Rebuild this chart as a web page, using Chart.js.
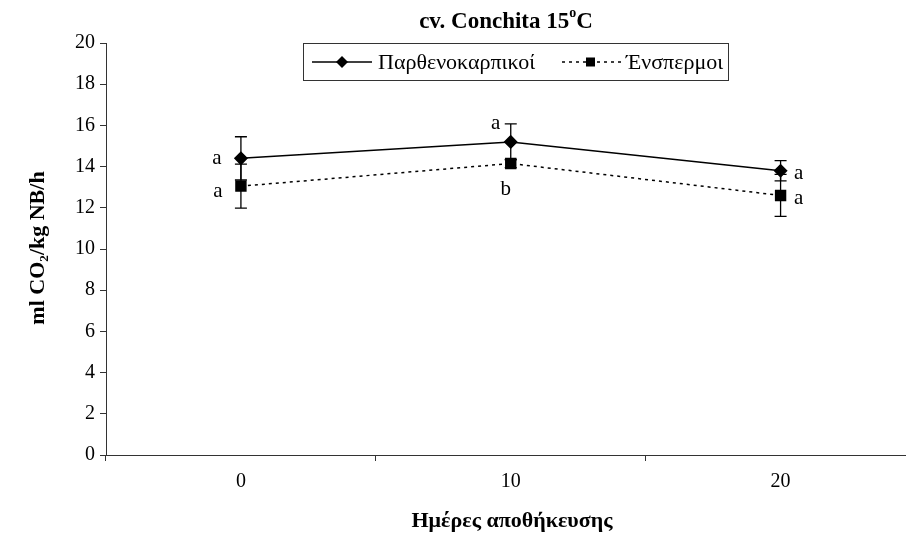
<!DOCTYPE html>
<html>
<head>
<meta charset="utf-8">
<script src="https://cdn.jsdelivr.net/npm/chart.js@4"></script>
<style>
  html, body { margin: 0; padding: 0; background: #fff; overflow: hidden; }
  #wrap { width: 906px; height: 538px; overflow: hidden; }
</style>
</head>
<body>
<div id="wrap"><canvas id="chart" width="924" height="538"></canvas></div>
<script>
// storage days (x categories)
const days = ['0', '10', '20'];

// Παρθενοκαρπικοί (parthenocarpic) series + error bars
const parthValues = [14.4, 15.2, 13.8];
const parthErrors = [1.05, 0.87, 0.49];
const parthLetters = ['a', 'a', 'a'];

// Ένσπερμοι (seeded) series + error bars
const enspValues = [13.05, 14.15, 12.6];
const enspErrors = [1.07, 0.2, 1.02];
const enspLetters = ['a', 'b', 'a'];

const yTicks = [0, 2, 4, 6, 8, 10, 12, 14, 16, 18, 20];

const serif = '"Liberation Serif", "Times New Roman", serif';
const axisColor = '#333';

// letter offsets from the marker (pixels), just styling
const parthLetterOffsets = [[-24, 0], [-15, -18], [18, 3]];
const enspLetterOffsets = [[-23, 5], [-5, 26], [18, 3]];

const errorBars = {
    id: 'errorBars',
    afterDatasetsDraw(chart) {
        const ctx = chart.ctx;
        const x = chart.scales.x;
        const y = chart.scales.y;
        const sets = [[parthValues, parthErrors], [enspValues, enspErrors]];
        ctx.save();
        ctx.strokeStyle = '#000';
        ctx.lineWidth = 1.3;
        sets.forEach(([vals, errs]) => {
            vals.forEach((v, i) => {
                const px = x.getPixelForValue(i);
                const top = y.getPixelForValue(v + errs[i]);
                const bot = y.getPixelForValue(v - errs[i]);
                ctx.beginPath();
                ctx.moveTo(px, top); ctx.lineTo(px, bot);
                ctx.moveTo(px - 6, top); ctx.lineTo(px + 6, top);
                ctx.moveTo(px - 6, bot); ctx.lineTo(px + 6, bot);
                ctx.stroke();
            });
        });
        ctx.restore();
    },
    afterDraw(chart) {
        const ctx = chart.ctx;
        const x = chart.scales.x;
        const y = chart.scales.y;
        ctx.save();
        ctx.fillStyle = '#000';

        // significance letters
        ctx.font = '21px ' + serif;
        ctx.textAlign = 'center';
        ctx.textBaseline = 'middle';
        parthValues.forEach((v, i) => {
            const o = parthLetterOffsets[i];
            ctx.fillText(parthLetters[i], x.getPixelForValue(i) + o[0], y.getPixelForValue(v) + o[1]);
        });
        enspValues.forEach((v, i) => {
            const o = enspLetterOffsets[i];
            ctx.fillText(enspLetters[i], x.getPixelForValue(i) + o[0], y.getPixelForValue(v) + o[1]);
        });

        // title with superscript o
        ctx.textBaseline = 'alphabetic';
        ctx.textAlign = 'left';
        ctx.font = 'bold 23px ' + serif;
        const t1 = 'cv. Conchita 15', t3 = 'C';
        const w1 = ctx.measureText(t1).width;
        const w3 = ctx.measureText(t3).width;
        ctx.font = 'bold 14px ' + serif;
        const w2 = ctx.measureText('o').width;
        let tx = 506 - (w1 + w2 + w3) / 2;
        ctx.font = 'bold 23px ' + serif;
        ctx.fillText(t1, tx, 28);
        ctx.font = 'bold 14px ' + serif;
        ctx.fillText('o', tx + w1, 17);
        ctx.font = 'bold 23px ' + serif;
        ctx.fillText(t3, tx + w1 + w2, 28);

        // x axis title
        ctx.textAlign = 'center';
        ctx.font = 'bold 22px ' + serif;
        ctx.fillText('Ημέρες αποθήκευσης', 512, 527);

        // y axis title
        ctx.save();
        ctx.translate(38, 248);
        ctx.rotate(-Math.PI / 2);
        ctx.font = 'bold 22px ' + serif;
        ctx.textBaseline = 'middle';
        ctx.fillText('ml CO₂/kg NB/h', 0, 0);
        ctx.restore();

        // legend box
        ctx.fillStyle = '#fff';
        ctx.fillRect(303, 43, 425, 37);
        ctx.strokeStyle = axisColor;
        ctx.lineWidth = 1;
        ctx.strokeRect(303.5, 43.5, 425, 37);
        const ly = 62;
        ctx.strokeStyle = '#000';
        ctx.lineWidth = 1.5;
        ctx.beginPath(); ctx.moveTo(312, ly); ctx.lineTo(372, ly); ctx.stroke();
        ctx.fillStyle = '#000';
        ctx.beginPath();
        ctx.moveTo(342, ly - 6); ctx.lineTo(348, ly); ctx.lineTo(342, ly + 6); ctx.lineTo(336, ly);
        ctx.closePath(); ctx.fill();
        ctx.setLineDash([3, 4]);
        ctx.beginPath(); ctx.moveTo(562, ly); ctx.lineTo(621, ly); ctx.stroke();
        ctx.setLineDash([]);
        ctx.fillRect(586, ly - 4.5, 9, 9);
        ctx.font = '22px ' + serif;
        ctx.textAlign = 'left';
        ctx.textBaseline = 'middle';
        ctx.fillText('Παρθενοκαρπικοί', 378, ly + 1);
        ctx.fillText('Ένσπερμοι', 626, ly + 1);
        ctx.restore();
    }
};

const ctx = document.getElementById('chart').getContext('2d');
new Chart(ctx, {
    type: 'line',
    data: {
        labels: days,
        datasets: [{
            label: 'Παρθενοκαρπικοί',
            data: parthValues,
            borderColor: '#000',
            backgroundColor: '#000',
            borderWidth: 1.5,
            pointStyle: 'rectRot',
            pointRadius: 6,
            tension: 0
        }, {
            label: 'Ένσπερμοι',
            data: enspValues,
            borderColor: '#000',
            backgroundColor: '#000',
            borderWidth: 1.5,
            borderDash: [3, 4],
            pointStyle: 'rect',
            pointRadius: 7,
            tension: 0
        }]
    },
    options: {
        responsive: false,
        animation: false,
        layout: { padding: { top: 43, right: 4, left: 0, bottom: 0 } },
        plugins: {
            legend: { display: false },
            title: { display: false },
            tooltip: { enabled: false }
        },
        scales: {
            x: {
                type: 'category',
                offset: true,
                grid: { offset: true, drawOnChartArea: false, tickLength: 6, color: axisColor },
                border: { color: axisColor },
                ticks: { color: '#000', font: { family: serif, size: 20 }, padding: 9, maxRotation: 0 },
                afterFit(s) { s.height = 83; }
            },
            y: {
                min: 0,
                max: 20,
                afterBuildTicks(s) { s.ticks = yTicks.map(v => ({ value: v })); },
                grid: { drawOnChartArea: false, tickLength: 6, color: axisColor },
                border: { color: axisColor },
                ticks: { color: '#000', font: { family: serif, size: 20 }, padding: 5 },
                afterFit(s) { s.width = 106; }
            }
        }
    },
    plugins: [errorBars]
});
</script>
</body>
</html>
